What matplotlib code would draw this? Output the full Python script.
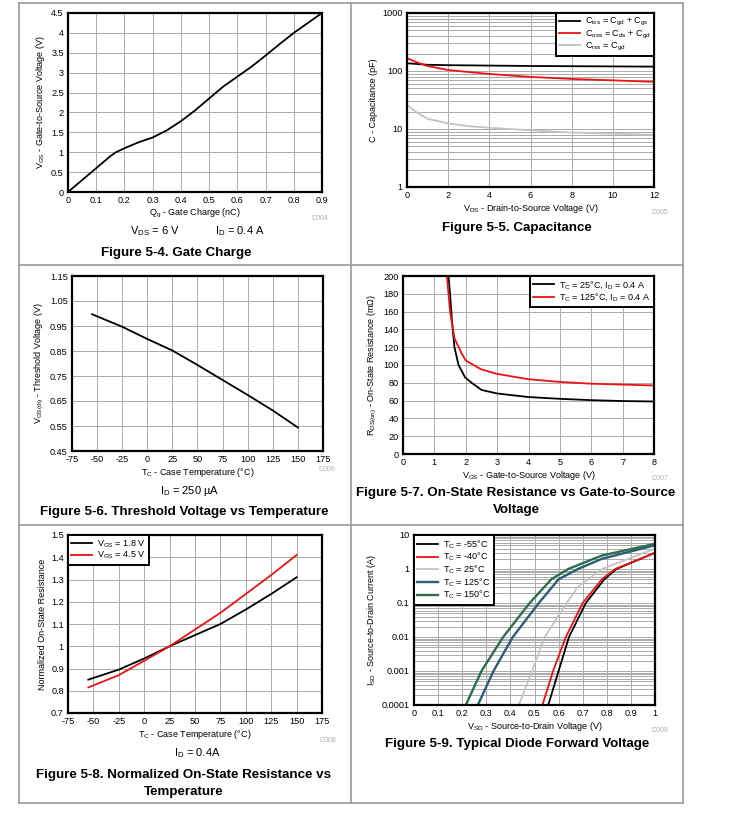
import numpy as np
import matplotlib.pyplot as plt
from matplotlib.lines import Line2D

plt.rcParams['font.family'] = ['Liberation Sans', 'DejaVu Sans']
plt.rcParams['mathtext.fontset'] = 'custom'
plt.rcParams['mathtext.rm'] = 'Liberation Sans'
plt.rcParams['mathtext.it'] = 'Liberation Sans'
plt.rcParams['mathtext.default'] = 'rm'
plt.rcParams['axes.unicode_minus'] = False

# Figure 5-4 gate charge
qg = [0, 0.05, 0.1, 0.15, 0.17, 0.2, 0.25, 0.3, 0.35, 0.4, 0.45, 0.5, 0.55, 0.6, 0.65, 0.7, 0.75, 0.8, 0.85, 0.9]
vgs_qg = [0, 0.3, 0.6, 0.9, 1.0, 1.1, 1.25, 1.37, 1.55, 1.78, 2.05, 2.35, 2.65, 2.9, 3.15, 3.43, 3.72, 4.0, 4.25, 4.5]

# Figure 5-5 capacitance
vds = [0, 0.5, 1, 2, 3, 4, 6, 8, 10, 12]
ciss = [136, 132, 128, 126, 125, 124, 122, 121, 120, 119]
coss = [166, 140, 122, 104, 96, 89, 79, 73, 69, 65]
crss = [26, 19, 15, 12.5, 11.2, 10.5, 9.5, 8.7, 8.3, 7.9]

# Figure 5-6 threshold voltage
tc_vth = [-55, -25, 0, 25, 50, 75, 100, 125, 150]
vth = [0.997, 0.947, 0.898, 0.852, 0.794, 0.734, 0.674, 0.612, 0.544]

# Figure 5-7 on-state resistance vs vgs
vgs_25 = [1.45, 1.5, 1.56, 1.64, 1.77, 1.98, 2.19, 2.5, 3.0, 4.0, 5.0, 6.0, 7.0, 8.0]
rds_25 = [200, 180, 150, 120, 100, 86, 80, 72, 68, 64, 62, 60.5, 59.5, 59]
vgs_125 = [1.4, 1.5, 1.64, 1.87, 2.0, 2.5, 3.0, 4.0, 5.0, 6.0, 7.0, 8.0]
rds_125 = [200, 160, 130, 113, 105, 95, 90, 84, 81, 79, 78, 77]

# Figure 5-8 normalized on-resistance
tc_rn = [-55, -25, 0, 25, 50, 75, 100, 125, 150]
rn_18 = [0.85, 0.895, 0.945, 1.0, 1.05, 1.1, 1.165, 1.235, 1.31]
rn_45 = [0.815, 0.87, 0.935, 1.0, 1.075, 1.15, 1.235, 1.32, 1.41]

# Figure 5-9 diode forward voltage
vsd_m55 = [0.557, 0.6, 0.643, 0.713, 0.79, 0.84, 1.0]
isd_m55 = [0.0001, 0.001, 0.01, 0.1, 0.5, 1, 3]
vsd_m40 = [0.533, 0.577, 0.63, 0.70, 0.78, 0.835, 1.0]
isd_m40 = [0.0001, 0.001, 0.01, 0.1, 0.5, 1, 3]
vsd_25 = [0.435, 0.49, 0.542, 0.634, 0.68, 0.78, 1.0]
isd_25 = [0.0001, 0.001, 0.01, 0.1, 0.3, 1, 4]
vsd_125 = [0.265, 0.33, 0.41, 0.518, 0.6, 0.68, 0.78, 1.0]
isd_125 = [0.0001, 0.001, 0.01, 0.1, 0.5, 1, 2, 5]
vsd_150 = [0.215, 0.28, 0.37, 0.48, 0.57, 0.64, 0.78, 1.0]
isd_150 = [0.0001, 0.001, 0.01, 0.1, 0.5, 1, 2.5, 5.5]

W, H = 730, 823
fig = plt.figure(figsize=(W / 100, H / 100), dpi=100)

GRID = '#aaaaaa'
TICK = 6.6


def px_axes(l, t, r, b):
    return fig.add_axes([l / W, 1 - b / H, (r - l) / W, (b - t) / H])


def style(ax):
    for s in ax.spines.values():
        s.set_linewidth(1.6)
        s.set_color('black')
    ax.tick_params(labelsize=TICK, length=0, pad=3)
    ax.grid(True, which='major', color=GRID, lw=0.7)
    ax.set_axisbelow(True)


def ftext(x, y, s, **kw):
    fig.text(x / W, 1 - y / H, s, **kw)


def legend(ax, loc):
    lg = ax.legend(loc=loc, fontsize=6.5, fancybox=False, edgecolor='black',
                   borderaxespad=0, handlelength=2.3, labelspacing=0.02,
                   borderpad=0.35, handletextpad=0.6)
    lg.get_frame().set_linewidth(1.4)
    lg.get_frame().set_alpha(1)


# table frame
fc = '#9a9a9a'
for x in [19, 351, 683]:
    fig.add_artist(Line2D([x / W, x / W], [1 - 3 / H, 1 - 803 / H], color=fc, lw=1.2))
for y in [3, 265, 525, 803]:
    fig.add_artist(Line2D([19 / W, 683 / W], [1 - y / H, 1 - y / H], color=fc, lw=1.2))

cap = dict(fontsize=9.6, fontweight='bold', ha='center', va='center')
sub = dict(fontsize=8, ha='center', va='center')
dlab = dict(fontsize=5, ha='right', va='center', color='#b0b0b0')

# ---- Figure 5-4
ax = px_axes(68, 13, 322, 192)
ax.plot(qg, vgs_qg, color='black', lw=1.3)
ax.set_xlim(0, 0.9)
ax.set_ylim(0, 4.5)
ax.set_xticks(np.arange(0, 0.91, 0.1))
ax.set_xticklabels(['0', '0.1', '0.2', '0.3', '0.4', '0.5', '0.6', '0.7', '0.8', '0.9'])
ax.set_yticks(np.arange(0, 4.51, 0.5))
ax.set_yticklabels(['0', '0.5', '1', '1.5', '2', '2.5', '3', '3.5', '4', '4.5'])
style(ax)
ax.set_xlabel('Q$_{g}$ - Gate Charge (nC)', fontsize=6.5, labelpad=1)
ax.set_ylabel('V$_{GS}$ - Gate-to-Source Voltage (V)', fontsize=6.5, labelpad=3)
ftext(328, 219, 'D004', **dlab)
ftext(155, 231, 'V$_{DS}$ = 6 V', **sub)
ftext(240, 231, 'I$_{D}$ = 0.4 A', **sub)
ftext(176, 253, 'Figure 5-4. Gate Charge', **cap)

# ---- Figure 5-5
ax = px_axes(407, 13, 654, 187)
ax.plot(vds, ciss, color='black', lw=1.3, label='C$_{iss}$ = C$_{gd}$ + C$_{gs}$')
ax.plot(vds, coss, color='#ee1111', lw=1.3, label='C$_{oss}$ = C$_{ds}$ + C$_{gd}$')
ax.plot(vds, crss, color='#c4c4c4', lw=1.3, label='C$_{rss}$ = C$_{gd}$')
ax.set_yscale('log')
ax.set_xlim(0, 12)
ax.set_ylim(1, 1000)
ax.set_xticks(range(0, 13, 2))
ax.set_yticks([1, 10, 100, 1000])
ax.set_yticklabels(['1', '10', '100', '1000'])
style(ax)
ax.grid(True, which='minor', axis='y', color=GRID, lw=0.7)
ax.tick_params(which='minor', length=0)
ax.set_xlabel('V$_{DS}$ - Drain-to-Source Voltage (V)', fontsize=6.5, labelpad=1)
ax.set_ylabel('C - Capacitance (pF)', fontsize=6.5, labelpad=3)
legend(ax, 'upper right')
ftext(668, 213, 'D005', **dlab)
ftext(517, 228, 'Figure 5-5. Capacitance', **cap)

# ---- Figure 5-6
ax = px_axes(72, 276, 323, 451)
ax.plot(tc_vth, vth, color='black', lw=1.3)
ax.set_xlim(-75, 175)
ax.set_ylim(0.45, 1.15)
ax.set_xticks(range(-75, 176, 25))
ax.set_yticks(np.arange(0.45, 1.151, 0.1))
ax.set_yticklabels(['0.45', '0.55', '0.65', '0.75', '0.85', '0.95', '1.05', '1.15'])
style(ax)
ax.set_xlabel('T$_{C}$ - Case Temperature (°C)', fontsize=6.5, labelpad=1)
ax.set_ylabel('V$_{GS(th)}$ - Threshold Voltage (V)', fontsize=6.5, labelpad=3)
ftext(335, 469, 'D006', **dlab)
ftext(190, 491, 'I$_{D}$ = 250 µA', **sub)
ftext(184, 512, 'Figure 5-6. Threshold Voltage vs Temperature', **cap)

# ---- Figure 5-7
ax = px_axes(403, 276, 654, 454)
ax.plot(vgs_25, rds_25, color='black', lw=1.3, label='T$_{C}$ = 25°C, I$_{D}$ = 0.4 A')
ax.plot(vgs_125, rds_125, color='#ee1111', lw=1.3, label='T$_{C}$ = 125°C, I$_{D}$ = 0.4 A')
ax.set_xlim(0, 8)
ax.set_ylim(0, 200)
ax.set_xticks(range(0, 9))
ax.set_yticks(range(0, 201, 20))
style(ax)
ax.set_xlabel('V$_{GS}$ - Gate-to-Source Voltage (V)', fontsize=6.5, labelpad=1)
ax.set_ylabel('R$_{DS(on)}$ - On-State Resistance (mΩ)', fontsize=6.5, labelpad=3)
legend(ax, 'upper right')
ftext(668, 479, 'D007', **dlab)
ftext(516, 493, 'Figure 5-7. On-State Resistance vs Gate-to-Source', **cap)
ftext(516, 510, 'Voltage', **cap)

# ---- Figure 5-8
ax = px_axes(68, 535, 322, 713)
ax.plot(tc_rn, rn_18, color='black', lw=1.3, label='V$_{GS}$ = 1.8 V')
ax.plot(tc_rn, rn_45, color='#ee1111', lw=1.3, label='V$_{GS}$ = 4.5 V')
ax.set_xlim(-75, 175)
ax.set_ylim(0.7, 1.5)
ax.set_xticks(range(-75, 176, 25))
ax.set_yticks(np.arange(0.7, 1.51, 0.1))
ax.set_yticklabels(['0.7', '0.8', '0.9', '1', '1.1', '1.2', '1.3', '1.4', '1.5'])
style(ax)
ax.set_xlabel('T$_{C}$ - Case Temperature (°C)', fontsize=6.5, labelpad=1)
ax.set_ylabel('Normalized On-State Resistance', fontsize=6.5, labelpad=3)
legend(ax, 'upper left')
ftext(336, 741, 'D008', **dlab)
ftext(197, 753, 'I$_{D}$ = 0.4A', **sub)
ftext(184, 775, 'Figure 5-8. Normalized On-State Resistance vs', **cap)
ftext(184, 792, 'Temperature', **cap)

# ---- Figure 5-9
ax = px_axes(414, 535, 655, 705)
ax.plot(vsd_m55, isd_m55, color='black', lw=1.3, label='T$_{C}$ = -55°C')
ax.plot(vsd_m40, isd_m40, color='#ee1111', lw=1.3, label='T$_{C}$ = -40°C')
ax.plot(vsd_25, isd_25, color='#c4c4c4', lw=1.3, label='T$_{C}$ = 25°C')
ax.plot(vsd_125, isd_125, color='#2a5d78', lw=1.7, label='T$_{C}$ = 125°C')
ax.plot(vsd_150, isd_150, color='#2b6e4a', lw=1.7, label='T$_{C}$ = 150°C')
ax.set_yscale('log')
ax.set_xlim(0, 1)
ax.set_ylim(0.0001, 10)
ax.set_xticks(np.arange(0, 1.01, 0.1))
ax.set_xticklabels(['0', '0.1', '0.2', '0.3', '0.4', '0.5', '0.6', '0.7', '0.8', '0.9', '1'])
ax.set_yticks([0.0001, 0.001, 0.01, 0.1, 1, 10])
ax.set_yticklabels(['0.0001', '0.001', '0.01', '0.1', '1', '10'])
style(ax)
ax.grid(True, which='minor', axis='y', color=GRID, lw=0.7)
ax.tick_params(which='minor', length=0)
ax.set_xlabel('V$_{SD}$ - Source-to-Drain Voltage (V)', fontsize=6.5, labelpad=1)
ax.set_ylabel('I$_{SD}$ - Source-to-Drain Current (A)', fontsize=6.5, labelpad=3)
legend(ax, 'upper left')
ftext(668, 731, 'D009', **dlab)
ftext(517, 744, 'Figure 5-9. Typical Diode Forward Voltage', **cap)

fig.savefig('out.png', dpi=100)
